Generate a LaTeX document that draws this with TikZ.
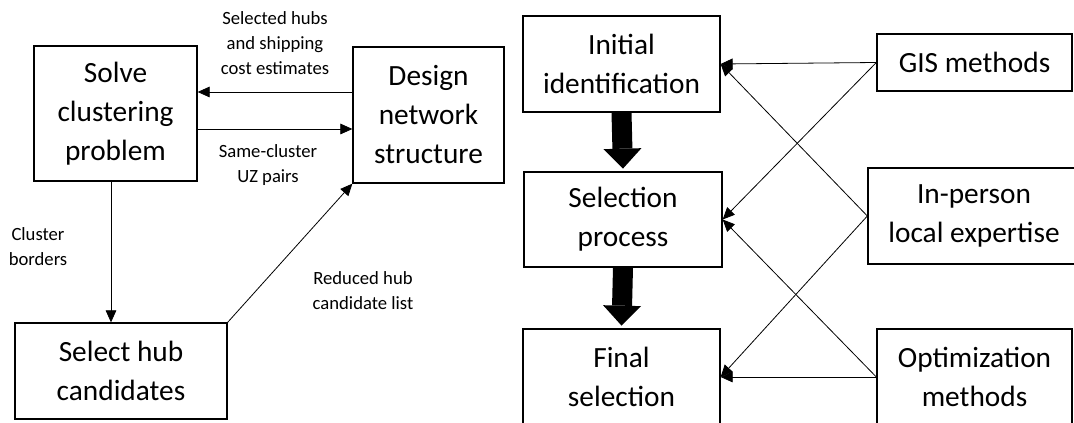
\documentclass[tikz,border=0pt]{standalone}
\usepackage{fontspec}
\setmainfont{Carlito}
\usetikzlibrary{arrows.meta}
\tikzstyle{block}    = [rectangle, draw, line width=1pt, fill=white, text centered, align=center, inner sep=0pt, font=\fontsize{22}{29.25}\selectfont]
\tikzstyle{line}     = [draw, line width=0.6pt, -{Triangle[length=9pt, width=8pt]}]
\tikzstyle{bigarrow} = [draw, line width=15pt, -{Triangle[length=15pt, width=28.5pt, line width=0pt]}, shorten >=2pt]
\tikzstyle{note}     = [align=center, inner sep=0pt, font=\fontsize{14}{18.75}\selectfont]

\begin{document}
\begin{tikzpicture}[x=0.75pt, y=-0.75pt]

		\clip (0,0) rectangle (1074,423);

		% Node Setting %

		% clustering loop =========================%
		\node [block, minimum width=122.25pt, minimum height=101.25pt] (solve) at (115.5,113.5) {Solve\\clustering\\problem};
		\node [block, minimum width=113.25pt, minimum height=102pt] (design) at (428.5,115) {Design\\network\\structure};
		\node [block, minimum width=159pt, minimum height=72pt] (select) at (121,371) {Select hub\\candidates};
		%=========================================%
		\node [note] (hubs) at (275,43) {Selected hubs\\and shipping\\cost estimates};
		\node [note] (pairs) at (268,165.5) {Same-cluster\\UZ pairs};
		\node [note] (borders) at (38,246.5) {Cluster\\borders};
		\node [note] (reduced) at (363,290.5) {Reduced hub\\candidate list};

		% selection stages ========================%
		\node [block, minimum width=147.75pt, minimum height=72pt] (init) at (621.5,64) {Initial\\identification};
		\node [block, minimum width=148.5pt, minimum height=71.25pt] (selproc) at (623,219.5) {Selection\\process};
		\node [block, minimum width=147.75pt, minimum height=72pt] (final) at (621.5,377) {Final\\selection};
		% methods =================================%
		\node [block, minimum width=146.25pt, minimum height=42.75pt] (gis) at (974.5,62.5) {GIS methods};
		\node [block, minimum width=159pt, minimum height=72pt] (inperson) at (974,216) {In-person\\local expertise};
		\node [block, minimum width=146.25pt, minimum height=72pt] (optim) at (974.5,377) {Optimization\\methods};
		%=========================================%

		% Connection %

		\path [line] (design.west |- 0,92)  -- (solve.east |- 0,92);
		\path [line] (solve.east |- 0,129)  -- (design.west |- 0,129);
		\path [line] (solve.south -| 111,0)  -- (select.north -| 111,0);
		\path [line] (select.north east)  -- (design.south west);

		\path [bigarrow] (init.south)  -- (selproc.north);
		\path [bigarrow] (selproc.south)  -- (final.north);

		\path [line] (gis.west)  -- (init.east);
		\path [line] (gis.west)  -- (selproc.east);
		\path [line] (inperson.west)  -- (init.east);
		\path [line] (inperson.west)  -- (final.east);
		\path [line] (optim.west)  -- (selproc.east);
		\path [line] (optim.west)  -- (final.east);
	\end{tikzpicture}
\end{document}
